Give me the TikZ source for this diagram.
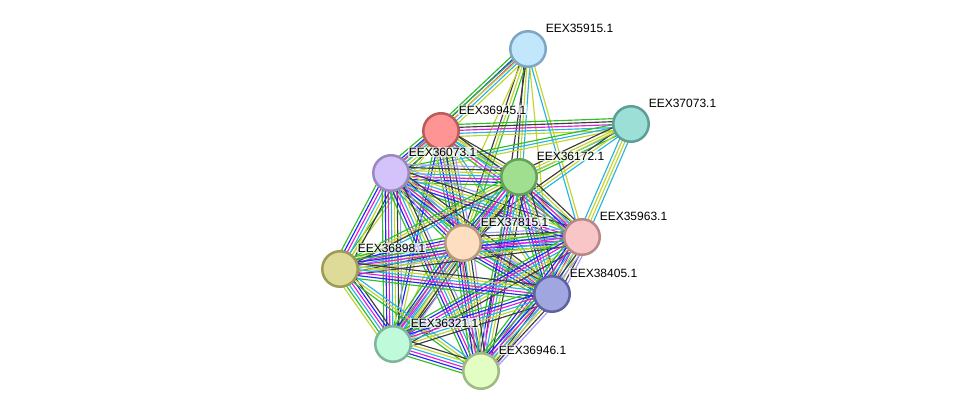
\documentclass[tikz,border=0pt]{standalone}
\usepackage{fontspec}
\setmainfont{Liberation Sans}
\usetikzlibrary{calc}
% channel colours
\definecolor{grn}{RGB}{45,190,40}
\definecolor{blu}{RGB}{35,35,250}
\definecolor{mag}{RGB}{225,30,220}
\definecolor{cya}{RGB}{40,180,225}
\definecolor{ylw}{RGB}{195,212,45}
\definecolor{blk}{RGB}{60,60,60}
\definecolor{lav}{RGB}{165,155,250}
\pgfdeclarelayer{edges}
\pgfsetlayers{edges,main}
\tikzset{
  prot/.style={circle,minimum size=35.5pt,inner sep=0pt,line width=2.5pt},
  lbl/.style={anchor=west,font=\fontsize{12}{14}\selectfont,fill=white,fill opacity=.7,text opacity=1,inner sep=.6pt},
  chan/.style={line width=1.15pt},
}
\def\full{grn,blu,mag,cya,ylw,blk,lav}
\def\six{grn,blu,mag,cya,ylw,blk}
\def\five{grn,mag,cya,ylw,blk}
% one line per channel, side by side
\newcommand{\linkedge}[3]{%
  \edef\chanlist{#3}%
  \foreach \c [count=\k] in \chanlist {\global\let\nchan\k}%
  \foreach \c [count=\k] in \chanlist {%
    \pgfmathsetmacro{\off}{(\k-(\nchan+1)/2)*3}%
    \draw[chan,\c] ($(#1)!\off pt!90:(#2)$) -- ($(#2)!\off pt!-90:(#1)$);%
  }%
}
\begin{document}
\begin{tikzpicture}[x=1pt,y=-1pt]
  \useasboundingbox (0,0) rectangle (976,417);
  % proteins
  \node[prot,fill={rgb,255:red,194;green,230;blue,251},draw={rgb,255:red,127;green,166;blue,194}] (n35915) at (528,49) {};
  \node[prot,fill={rgb,255:red,156;green,223;blue,214},draw={rgb,255:red,94;green,158;blue,151}] (n37073) at (631,124) {};
  \node[prot,fill={rgb,255:red,255;green,148;blue,148},draw={rgb,255:red,186;green,90;blue,90}] (n36945) at (441,131) {};
  \node[prot,fill={rgb,255:red,212;green,194;blue,251},draw={rgb,255:red,154;green,136;blue,191}] (n36073) at (391,173) {};
  \node[prot,fill={rgb,255:red,160;green,222;blue,144},draw={rgb,255:red,100;green,160;blue,90}] (n36172) at (519,177) {};
  \node[prot,fill={rgb,255:red,254;green,222;blue,192},draw={rgb,255:red,184;green,152;blue,128}] (n37815) at (463,243) {};
  \node[prot,fill={rgb,255:red,248;green,198;blue,198},draw={rgb,255:red,184;green,136;blue,136}] (n35963) at (582,237) {};
  \node[prot,fill={rgb,255:red,222;green,219;blue,152},draw={rgb,255:red,158;green,154;blue,88}] (n36898) at (340,269) {};
  \node[prot,fill={rgb,255:red,160;green,166;blue,224},draw={rgb,255:red,94;green,98;blue,160}] (n38405) at (552,294) {};
  \node[prot,fill={rgb,255:red,191;green,250;blue,218},draw={rgb,255:red,127;green,181;blue,154}] (n36321) at (393,344) {};
  \node[prot,fill={rgb,255:red,226;green,254;blue,194},draw={rgb,255:red,160;green,184;blue,131}] (n36946) at (481,371) {};
  % labels
  \foreach \p in {35915,37073,36945,36073,36172,37815,35963,36898,38405,36321,36946}
    \node[lbl] (l\p) at ($(n\p)+(17,-21)$) {EEX\p.1};
  % interactions
  \begin{pgfonlayer}{edges}
    \linkedge{n35915}{n36945}{grn,blu,mag,cya,ylw}
    \linkedge{n35915}{n36073}{grn,ylw}
    \linkedge{n35915}{n36172}{blk,ylw,cya}
    \linkedge{n35915}{n37815}{blk,ylw,grn}
    \linkedge{n35915}{n35963}{cya,ylw}
    \linkedge{n35915}{n38405}{ylw}
    \linkedge{n35915}{n36321}{ylw}
    \linkedge{n35915}{n36946}{blk}
    \linkedge{n37073}{n36945}{grn,blk,mag,cya,ylw}
    \linkedge{n37073}{n36073}{grn,cya,ylw}
    \linkedge{n37073}{n36172}{blk,ylw,cya,grn}
    \linkedge{n37073}{n37815}{blk,ylw,cya}
    \linkedge{n37073}{n35963}{cya,ylw,ylw,cya}
    \linkedge{n37073}{n36898}{ylw}
    \linkedge{n36945}{n36073}{\six}
    \linkedge{n36945}{n36172}{grn,cya,ylw,blk}
    \linkedge{n36945}{n37815}{\full}
    \linkedge{n36945}{n35963}{\five}
    \linkedge{n36945}{n36898}{grn,ylw}
    \linkedge{n36945}{n38405}{ylw,cya}
    \linkedge{n36945}{n36321}{grn,blu,ylw}
    \linkedge{n36945}{n36946}{ylw,blk}
    \linkedge{n36073}{n36172}{\full}
    \linkedge{n36073}{n37815}{\full}
    \linkedge{n36073}{n35963}{\full}
    \linkedge{n36073}{n36898}{\six}
    \linkedge{n36073}{n38405}{\six}
    \linkedge{n36073}{n36321}{\full}
    \linkedge{n36073}{n36946}{\full}
    \linkedge{n36172}{n37815}{\six}
    \linkedge{n36172}{n35963}{\six}
    \linkedge{n36172}{n36898}{grn,ylw,blk,cya}
    \linkedge{n36172}{n38405}{\six}
    \linkedge{n36172}{n36321}{\five}
    \linkedge{n36172}{n36946}{\six}
    \linkedge{n37815}{n35963}{\full}
    \linkedge{n37815}{n36898}{\full}
    \linkedge{n37815}{n38405}{\full}
    \linkedge{n37815}{n36321}{\full}
    \linkedge{n37815}{n36946}{\full}
    \linkedge{n35963}{n36898}{\six}
    \linkedge{n35963}{n38405}{\full}
    \linkedge{n35963}{n36321}{\six}
    \linkedge{n35963}{n36946}{\full}
    \linkedge{n36898}{n38405}{\six}
    \linkedge{n36898}{n36321}{ylw,grn,cya,mag,blu,blk}
    \linkedge{n36898}{n36946}{grn,ylw,cya}
    \linkedge{n38405}{n36321}{\six}
    \linkedge{n38405}{n36946}{\full}
    \linkedge{n36321}{n36946}{\six}
  \end{pgfonlayer}
\end{tikzpicture}
\end{document}
